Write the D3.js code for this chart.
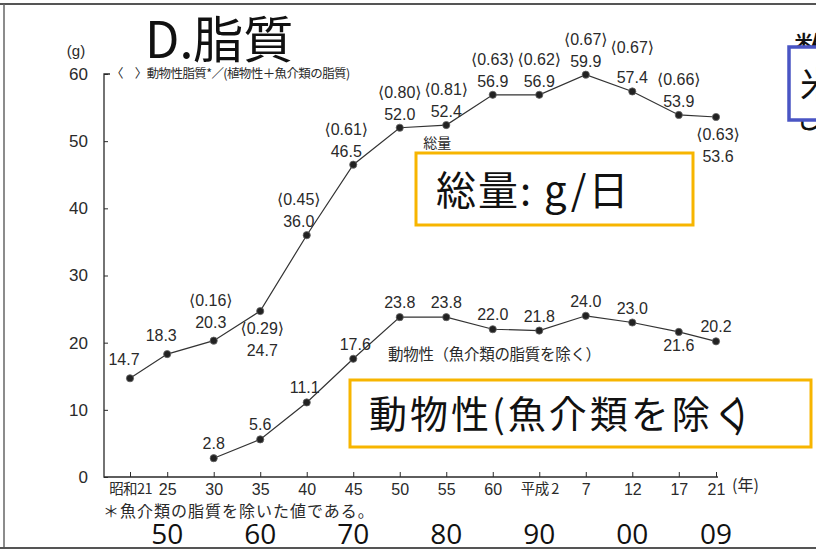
<!DOCTYPE html>
<html>
<head>
<meta charset="utf-8">
<script src="https://cdn.jsdelivr.net/npm/d3@7"></script>
<style>
  body { margin: 0; background: #fff; }
  svg { display: block; }
</style>
</head>
<body>
<svg id="chart" width="816" height="551"></svg>
<script>
// Survey years (Showa 21 … Heisei 21) and per-capita fat intake, g/day
const years = [1946, 1950, 1955, 1960, 1965, 1970, 1975, 1980, 1985, 1990, 1995, 2000, 2005, 2009];
const totalFat = [14.7, 18.3, 20.3, 24.7, 36.0, 46.5, 52.0, 52.4, 56.9, 56.9, 59.9, 57.4, 53.9, 53.6];
// animal fat / (vegetable + fish fat)
const animalRatio = [null, null, 0.16, 0.29, 0.45, 0.61, 0.80, 0.81, 0.63, 0.62, 0.67, 0.67, 0.66, 0.63];

const animalYears = [1955, 1960, 1965, 1970, 1975, 1980, 1985, 1990, 1995, 2000, 2005, 2009];
const animalFat = [2.8, 5.6, 11.1, 17.6, 23.8, 23.8, 22.0, 21.8, 24.0, 23.0, 21.6, 20.2];

const xTickLabels = ["昭和21", "25", "30", "35", "40", "45", "50", "55", "60", "平成\u00a02", "7", "12", "17", "21"];
const yTicks = [0, 10, 20, 30, 40, 50, 60];
const decadeYears = [1950, 1960, 1970, 1980, 1990, 2000, 2009];
const decadeLabels = ["50", "60", "70", "80", "90", "00", "09"];

const svg = d3.select("#chart");
const SANS = "'Liberation Sans', Arial, 'DejaVu Sans', sans-serif";
const JP = "'Noto Sans CJK JP', 'Noto Sans', sans-serif";
const INK = "#2a2a2a";

const x = d3.scaleLinear().domain([1946, 2009]).range([130, 716]);
const y = d3.scaleLinear().domain([0, 60]).range([477, 74]);
const axisLeftX = 104;

// page frame
svg.append("line").attr("x1", 0).attr("x2", 816).attr("y1", 4).attr("y2", 4)
  .attr("stroke", "#555").attr("stroke-width", 2);
svg.append("line").attr("x1", 4).attr("x2", 4).attr("y1", 4).attr("y2", 548)
  .attr("stroke", "#666").attr("stroke-width", 1.5);
svg.append("line").attr("x1", 0).attr("x2", 816).attr("y1", 548).attr("y2", 548)
  .attr("stroke", "#555").attr("stroke-width", 2);

// title
svg.append("text").attr("x", 145).attr("y", 58)
  .attr("font-family", JP).attr("font-size", 50).attr("fill", "#111")
  .text("D.脂質");

// axes
const gy = svg.append("g").attr("transform", `translate(${axisLeftX},0)`)
  .call(d3.axisLeft(y).tickValues(yTicks).tickSize(-4).tickPadding(16));
gy.select(".domain").remove();
gy.selectAll(".tick line").attr("stroke", INK);
gy.selectAll(".tick text").attr("font-family", SANS).attr("font-size", 17).attr("fill", INK);

const isEra = i => /[^\d\u00a0]/.test(xTickLabels[i]);
const gx = svg.append("g").attr("transform", `translate(0,${y(0)})`)
  .call(d3.axisBottom(x).tickValues(years).tickFormat((d, i) => xTickLabels[i]).tickSize(-5).tickPadding(7));
gx.select(".domain").remove();
gx.selectAll(".tick line").attr("stroke", INK);
gx.selectAll(".tick text")
  .attr("font-family", (d, i) => isEra(i) ? JP : SANS)
  .attr("font-size", (d, i) => isEra(i) ? 14.5 : 16)
  .attr("fill", INK)
  .attr("letter-spacing", (d, i) => isEra(i) ? -0.6 : 0);

svg.append("path")
  .attr("d", `M${axisLeftX + 6},${y(60)} H${axisLeftX} V${y(0)} H${x(2009) + 2}`)
  .attr("fill", "none").attr("stroke", INK).attr("stroke-width", 1.3);

svg.append("text").attr("x", 76).attr("y", 56).attr("text-anchor", "middle")
  .attr("font-family", SANS).attr("font-size", 15).attr("fill", INK).text("(g)");
svg.append("text").attr("x", x(2009) + 16).attr("y", y(0) + 14)
  .attr("font-family", JP).attr("font-size", 16).attr("fill", INK).text("(年)");

svg.append("text").attr("x", 111).attr("y", 78)
  .attr("font-family", JP).attr("font-size", 12.5).attr("fill", INK)
  .attr("letter-spacing", -0.6)
  .text("〈　〉動物性脂質*／(植物性＋魚介類の脂質)");

// series lines
const line = d3.line().x(d => x(d[0])).y(d => y(d[1]));
const totalPts = years.map((yr, i) => [yr, totalFat[i]]);
const animalPts = animalYears.map((yr, i) => [yr, animalFat[i]]);

[totalPts, animalPts].forEach(pts => {
  svg.append("path").datum(pts).attr("d", line)
    .attr("fill", "none").attr("stroke", "#333").attr("stroke-width", 1.2);
  svg.append("g").selectAll("circle").data(pts).join("circle")
    .attr("cx", d => x(d[0])).attr("cy", d => y(d[1])).attr("r", 3.6)
    .attr("fill", "#222").attr("stroke", "#666").attr("stroke-width", 0.8);
});

// value labels
const labelFont = sel => sel.attr("font-family", SANS).attr("font-size", 16)
  .attr("fill", INK).attr("text-anchor", "middle");
const totalBelow = new Set([1960, 2009]);
const totalNudge = { 1946: -6, 1950: -6, 1955: -3, 1965: -8, 1970: -7 };

totalPts.forEach(([yr, v], i) => {
  const px = x(yr) + (totalNudge[yr] || 0);
  const py = y(v);
  const r = animalRatio[i];
  if (totalBelow.has(yr)) {
    const bx = x(yr) + 2;
    if (r !== null) svg.append("text").call(labelFont).attr("x", bx).attr("y", py + 23).text(`⟨${r.toFixed(2)}⟩`);
    svg.append("text").call(labelFont).attr("x", bx).attr("y", py + 45).text(v.toFixed(1));
  } else {
    const lift = yr <= 1955 ? 13 : 8;
    svg.append("text").call(labelFont).attr("x", px).attr("y", py - lift).text(v.toFixed(1));
    if (r !== null) {
      const gap = yr === 2000 ? 30 : 22;
      svg.append("text").call(labelFont).attr("x", px).attr("y", py - lift - gap).text(`⟨${r.toFixed(2)}⟩`);
    }
  }
});

const animalBelow = new Set([2005]);
const animalNudge = { 1965: -2, 1970: 2 };
animalPts.forEach(([yr, v]) => {
  const px = x(yr) + (animalNudge[yr] || 0);
  const py = y(v);
  if (animalBelow.has(yr)) {
    svg.append("text").call(labelFont).attr("x", px).attr("y", py + 19).text(v.toFixed(1));
  } else {
    svg.append("text").call(labelFont).attr("x", px).attr("y", py - 9).text(v.toFixed(1));
  }
});

// in-plot series names
svg.append("text").attr("x", x(1980) - 23).attr("y", 148)
  .attr("font-family", JP).attr("font-size", 14).attr("fill", INK).text("総量");
svg.append("text").attr("x", 388).attr("y", 360)
  .attr("font-family", JP).attr("font-size", 15.5).attr("fill", INK)
  .attr("letter-spacing", -0.3)
  .text("動物性（魚介類の脂質を除く）");

// footnote
svg.append("text").attr("x", 103).attr("y", 517)
  .attr("font-family", JP).attr("font-size", 16).attr("fill", INK)
  .attr("letter-spacing", 1)
  .text("＊魚介類の脂質を除いた値である。");

// Western decade labels under the era years
svg.append("g").selectAll("text").data(decadeYears).join("text")
  .attr("x", d => x(d)).attr("y", 544).attr("text-anchor", "middle")
  .attr("font-family", "'Open Sans', Roboto, sans-serif").attr("font-size", 28)
  .attr("fill", "#111")
  .text((d, i) => decadeLabels[i]);

// callout boxes
const ORANGE = "#f7b500";
svg.append("rect").attr("x", 416).attr("y", 153).attr("width", 277).attr("height", 72)
  .attr("fill", "#fff").attr("stroke", ORANGE).attr("stroke-width", 3);
svg.append("text").attr("x", 436).attr("y", 205)
  .attr("font-family", JP).attr("font-size", 40).attr("fill", "#111")
  .attr("letter-spacing", 2).text("総量: g/日");

svg.append("rect").attr("x", 350).attr("y", 380).attr("width", 461).attr("height", 67)
  .attr("fill", "#fff").attr("stroke", ORANGE).attr("stroke-width", 3);
const t2 = svg.append("text").attr("x", 369).attr("y", 428)
  .attr("font-family", JP).attr("font-size", 38).attr("fill", "#111")
  .attr("letter-spacing", 3);
t2.append("tspan").text("動物性(魚介類を除く");
t2.append("tspan").attr("dx", -20).text(")");

// neighbouring panel, cut by the page edge
svg.append("text").attr("x", 794).attr("y", 62)
  .attr("font-family", JP).attr("font-size", 34).attr("fill", "#111").text("数");
svg.append("text").attr("x", 794).attr("y", 128)
  .attr("font-family", JP).attr("font-size", 30).attr("fill", "#111").text("し");
svg.append("rect").attr("x", 789).attr("y", 47).attr("width", 60).attr("height", 73)
  .attr("fill", "#fff").attr("stroke", "#4a55c4").attr("stroke-width", 3.5);
svg.append("text").attr("x", 800).attr("y", 98)
  .attr("font-family", JP).attr("font-size", 36).attr("fill", "#111").text("米");
</script>
</body>
</html>
